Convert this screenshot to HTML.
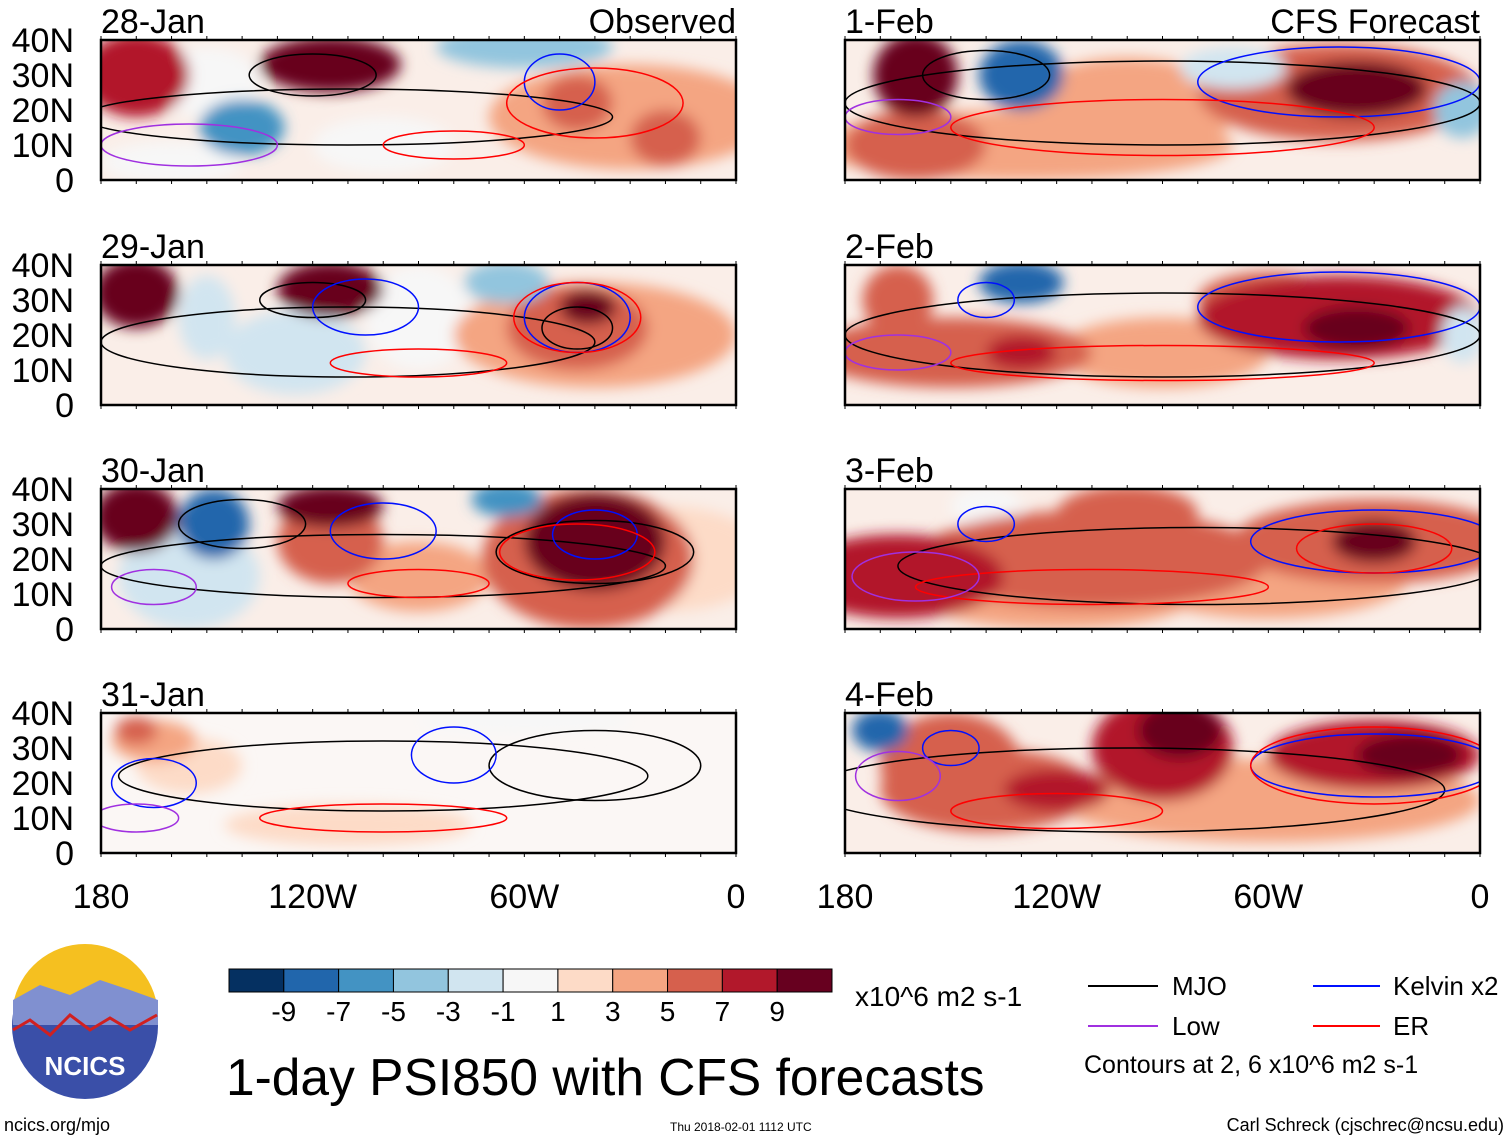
<!DOCTYPE html>
<html><head><meta charset="utf-8"><style>
body{margin:0;background:#fff;width:1510px;height:1141px;overflow:hidden;font-family:"Liberation Sans",sans-serif}
svg{display:block}
</style></head><body>
<svg id="chart" width="1510" height="1141" viewBox="0 0 1510 1141">
<defs><filter id="blur" x="-20%" y="-20%" width="140%" height="140%"><feGaussianBlur stdDeviation="7"/></filter></defs>
<g id="panels"></g>
<g id="cbar"></g>
<text x="855" y="1006" font-size="28">x10^6 m2 s-1</text>
<text x="226" y="1095" font-size="51.5">1-day PSI850 with CFS forecasts</text>
<g font-size="26">
<line x1="1088" y1="986" x2="1158" y2="986" stroke="#000" stroke-width="2"/><text x="1172" y="995">MJO</text>
<line x1="1088" y1="1026" x2="1158" y2="1026" stroke="#a030e0" stroke-width="2"/><text x="1172" y="1035">Low</text>
<line x1="1313" y1="986" x2="1380" y2="986" stroke="#0010ff" stroke-width="2"/><text x="1393" y="995">Kelvin x2</text>
<line x1="1313" y1="1026" x2="1380" y2="1026" stroke="#ff0000" stroke-width="2"/><text x="1393" y="1035">ER</text>
<text x="1084" y="1073" font-size="25">Contours at 2, 6 x10^6 m2 s-1</text>
</g>
<g>
<circle cx="85" cy="1026" r="73" fill="#3a4fa8"/>
<path d="M13,1005 A73,73 0 0 1 157,1005 Z" fill="#f5c020"/>
<path d="M13,1000 L40,985 L70,995 L100,980 L130,990 L158,1000 L158,1025 L13,1025Z" fill="#8090d0"/>
<path d="M13,1030 L30,1020 L50,1035 L70,1015 L90,1030 L110,1018 L130,1030 L157,1015" fill="none" stroke="#d02020" stroke-width="3"/>
<text x="85" y="1075" font-size="26" font-weight="bold" fill="#fff" text-anchor="middle">NCICS</text>
</g>
<text x="4" y="1131" font-size="18">ncics.org/mjo</text>
<text x="670" y="1131" font-size="12">Thu 2018-02-01 1112 UTC</text>
<text x="1504" y="1131" font-size="18" text-anchor="end">Carl Schreck (cjschrec@ncsu.edu)</text>
</svg>
<script>
const colors=["#053061","#2166ac","#4393c3","#92c5de","#d1e5f0","#f7f7f7","#fddbc7","#f4a582","#d6604d","#b2182b","#67001f"];
const cbarTicks=["-9","-7","-5","-3","-1","1","3","5","7","9"];
const panelTitles=["28-Jan","29-Jan","30-Jan","31-Jan","1-Feb","2-Feb","3-Feb","4-Feb"];
const latTicks=["0","10N","20N","30N","40N"];
const lonTicks=["180","120W","60W","0"];
// blobs: [lonW, lat, rLon, rLat, value]
const blobs0=[[150,28,15,10,-1],[100,10,20,8,-1],[160,5,20,6,-1],[30,18,40,15,3],[170,30,15,12,7],[115,33,20,8,9],[140,15,12,8,-7],[60,38,25,6,-5],[20,12,10,8,5],[45,22,10,8,5]];
const blobs1=[[90,25,15,15,-1],[40,20,40,15,3],[150,25,8,12,-3],[125,15,20,12,-3],[45,22,20,12,5],[65,35,12,6,-5],[170,32,12,10,9],[115,33,15,8,9],[42,28,8,5,9]];
const blobs2=[[20,20,30,15,1],[90,15,20,10,3],[155,15,20,15,-3],[42,20,30,20,5],[115,25,15,12,5],[65,37,10,5,-7],[170,32,12,10,9],[148,30,10,10,-9],[115,35,15,6,9],[40,25,20,14,9]];
const blobs3=[[110,8,35,6,1],[155,25,15,8,1],[60,38,30,4,-1],[165,32,12,6,3],[170,35,6,4,5]];
const blobs4=[[130,10,60,10,3],[100,20,30,15,3],[40,25,40,14,5],[160,10,20,10,5],[70,32,15,6,-3],[5,20,8,8,-5],[160,30,12,12,9],[130,30,12,10,-9],[35,26,20,8,9]];
const blobs5=[[90,15,30,10,3],[150,15,40,10,5],[165,30,10,10,5],[60,30,20,8,5],[40,25,40,12,7],[130,15,10,5,7],[5,20,6,8,-3],[130,35,12,6,-9],[35,22,15,6,9]];
const blobs6=[[120,10,40,10,3],[60,15,40,12,3],[140,35,10,6,-1],[110,20,50,14,5],[100,33,20,8,5],[30,25,40,12,5],[165,15,30,12,7],[30,25,12,6,9]];
const blobs7=[[60,15,60,12,3],[150,25,20,15,5],[140,18,30,12,5],[90,30,20,15,7],[30,28,30,10,7],[120,18,15,6,7],[170,35,8,6,-9],[85,35,12,8,9],[20,28,15,6,9]];
const allBlobs=[blobs0,blobs1,blobs2,blobs3,blobs4,blobs5,blobs6,blobs7];
const bgColors=["#faeee8","#faeee8","#faeee8","#fbf7f5","#faeee8","#faeee8","#faeee8","#faeee8"];
// contours: [lonW, lat, rLon, rLat, type]
const contours0=[[110,18,75,8,"mjo"],[120,30,18,6,"mjo"],[155,10,25,6,"low"],[50,28,10,8,"kelvin"],[80,10,20,4,"er"],[40,22,25,10,"er"]];
const contours1=[[110,18,70,10,"mjo"],[120,30,15,5,"mjo"],[45,22,10,6,"mjo"],[105,28,15,8,"kelvin"],[45,25,15,10,"kelvin"],[90,12,25,4,"er"],[45,25,18,10,"er"]];
const contours2=[[100,18,80,9,"mjo"],[140,30,18,7,"mjo"],[40,22,28,9,"mjo"],[100,28,15,8,"kelvin"],[40,27,12,7,"kelvin"],[90,13,20,4,"er"],[45,22,22,8,"er"],[165,12,12,5,"low"]];
const contours3=[[100,22,75,10,"mjo"],[40,25,30,10,"mjo"],[80,28,12,8,"kelvin"],[165,20,12,7,"kelvin"],[100,10,35,4,"er"],[170,10,12,4,"low"]];
const contours4=[[90,22,90,12,"mjo"],[140,30,18,7,"mjo"],[40,28,40,10,"kelvin"],[90,15,60,8,"er"],[165,18,15,5,"low"]];
const contours5=[[90,20,90,12,"mjo"],[40,28,40,10,"kelvin"],[140,30,8,5,"kelvin"],[90,12,60,5,"er"],[165,15,15,5,"low"]];
const contours6=[[80,18,85,11,"mjo"],[30,25,35,9,"kelvin"],[140,30,8,5,"kelvin"],[110,12,50,5,"er"],[30,23,22,7,"er"],[160,15,18,7,"low"]];
const contours7=[[100,18,90,12,"mjo"],[30,25,35,9,"kelvin"],[150,30,8,5,"kelvin"],[120,12,30,5,"er"],[30,25,35,11,"er"],[165,22,12,7,"low"]];
const allContours=[contours0,contours1,contours2,contours3,contours4,contours5,contours6,contours7];
const ctColor={mjo:"#000",low:"#a030e0",kelvin:"#0010ff",er:"#ff0000"};

const NS="http://www.w3.org/2000/svg";
function mk(t,a,p){const e=document.createElementNS(NS,t);for(const k in a)e.setAttribute(k,a[k]);p.appendChild(e);return e;}
function colorOf(v){return colors[Math.max(0,Math.min(10,Math.floor((v+11)/2)))];}
const PW=635,PH=140,lefts=[101,845],tops=[40,265,489,713];
const root=document.getElementById("panels");
for(let i=0;i<8;i++){
  const x0=lefts[Math.floor(i/4)],y0=tops[i%4];
  const xS=lon=>x0+(180-lon)/180*PW, yS=lat=>y0+PH-lat/40*PH;
  const rx=d=>d/180*PW, ry=d=>d/40*PH;
  const g=mk("g",{},root);
  
  
  const cp=mk("clipPath",{id:"c"+i},g);
  mk("rect",{x:x0,y:y0,width:PW,height:PH},cp);
  const inner=mk("g",{"clip-path":"url(#c"+i+")"},g);
  mk("rect",{x:x0,y:y0,width:PW,height:PH,fill:bgColors[i]},inner);
  const bg=mk("g",{filter:"url(#blur)"},inner);
  allBlobs[i].forEach(b=>{
    const e=mk("ellipse",{cx:xS(b[0]),cy:yS(b[1]),rx:rx(b[2]),ry:ry(b[3]),fill:colorOf(b[4])},bg);
    
    
  });
  allContours[i].forEach(c=>{
    const e=mk("ellipse",{cx:xS(c[0]),cy:yS(c[1]),rx:rx(c[2]),ry:ry(c[3]),fill:"none",stroke:ctColor[c[4]],"stroke-width":1.5},inner);
    
    
  });
  mk("rect",{x:x0,y:y0,width:PW,height:PH,fill:"none",stroke:"#000","stroke-width":2.5},g);
  for(let l=0;l<=180;l+=10){const xx=xS(l);mk("line",{x1:xx,y1:y0,x2:xx,y2:y0-4,stroke:"#000"},g);mk("line",{x1:xx,y1:y0+PH,x2:xx,y2:y0+PH+4,stroke:"#000"},g);}
  const t=mk("text",{x:x0,y:y0-7,"font-size":34},g);t.textContent=panelTitles[i];
  
  
  if(i===0||i===4){const s=mk("text",{x:x0+PW,y:y0-7,"font-size":34,"text-anchor":"end"},g);s.textContent=i===0?"Observed":"CFS Forecast";}
  if(i<4){latTicks.forEach((lt,k)=>{const tt=mk("text",{x:x0-27,y:yS(k*10)+12,"font-size":34,"text-anchor":"end"},g);tt.textContent=lt;
    
    });}
  if(i%4===3){lonTicks.forEach((lt,k)=>{const tt=mk("text",{x:xS(180-k*60),y:908,"font-size":34,"text-anchor":"middle"},g);tt.textContent=lt;
    
    });}
}
const cb=document.getElementById("cbar");const bw=603/11;
colors.forEach((c,k)=>{const r=mk("rect",{x:229+k*bw,y:969,width:bw,height:23,fill:c,stroke:"#000","stroke-width":1},cb);
  
  });
cbarTicks.forEach((t,k)=>{const e=mk("text",{x:229+(k+1)*bw,y:1021,"font-size":28,"text-anchor":"middle"},cb);e.textContent=t;
  
  });
</script>
</body></html>
